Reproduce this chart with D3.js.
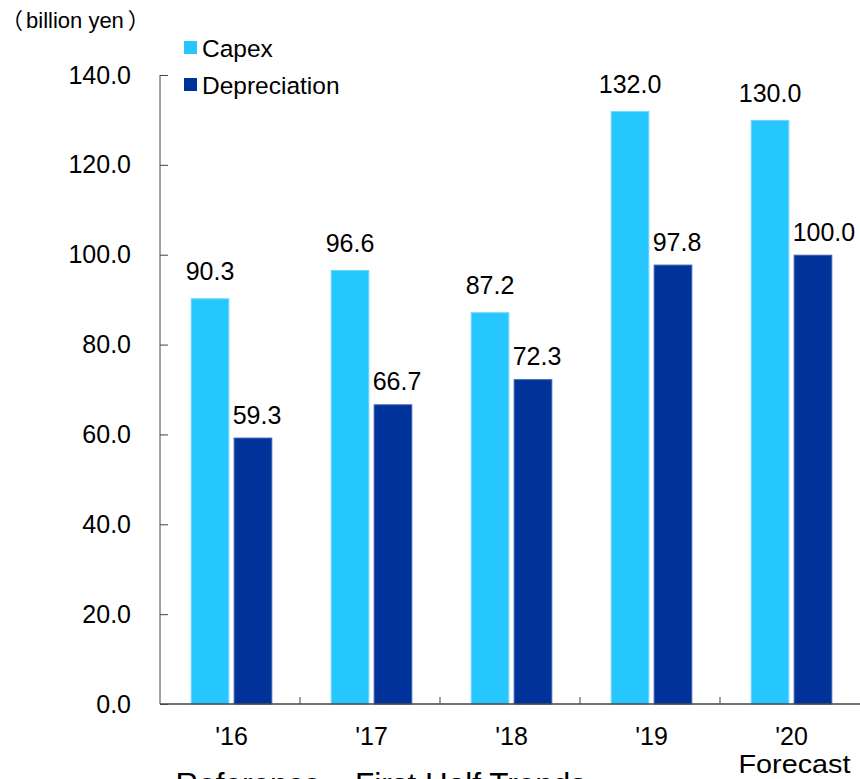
<!DOCTYPE html>
<html>
<head>
<meta charset="utf-8">
<script src="https://cdn.jsdelivr.net/npm/d3@7"></script>
<style>
  html, body { margin: 0; padding: 0; background: #fff; }
  svg { display: block; }
  text { font-family: "Liberation Sans", Arial, "Noto Sans CJK JP", sans-serif; fill: #000; }
</style>
</head>
<body>
<script>
// Capital expenditure vs. depreciation, first-half figures (billion yen)
const categories = ["'16", "'17", "'18", "'19", "'20"];
const categoryNotes = ["", "", "", "", "Forecast"];
const capex = [90.3, 96.6, 87.2, 132.0, 130.0];
const depreciation = [59.3, 66.7, 72.3, 97.8, 100.0];
const seriesNames = ["Capex", "Depreciation"];
const yTickValues = [0, 20, 40, 60, 80, 100, 120, 140];

const W = 860, H = 779;
const colors = { Capex: "#26C6FF", Depreciation: "#003399" };
const strokes = { Capex: "#6fd8ff", Depreciation: "#3a5fb0" };

const svg = d3.select("body").append("svg")
  .attr("width", W).attr("height", H);

const plot = { left: 160, right: 860, top: 75, bottom: 704 };

const y = d3.scaleLinear().domain([0, 140]).range([plot.bottom, plot.top]);
const x0 = d3.scaleBand().domain(categories).range([plot.left, plot.right]).padding(0);
const x1 = d3.scaleBand().domain(seriesNames).range([30.7, 112.3]).paddingInner(0.1);

const rows = categories.map((c, i) => ({
  cat: c, note: categoryNotes[i],
  values: [
    { key: "Capex", value: capex[i] },
    { key: "Depreciation", value: depreciation[i] }
  ]
}));

// Bars
const groups = svg.append("g").selectAll("g").data(rows).join("g")
  .attr("transform", d => `translate(${x0(d.cat)},0)`);

groups.selectAll("rect").data(d => d.values).join("rect")
  .attr("x", d => x1(d.key) + 0.5)
  .attr("y", d => y(d.value) + 0.5)
  .attr("width", x1.bandwidth() - 1)
  .attr("height", d => y(0) - y(d.value) - 0.5)
  .attr("fill", d => colors[d.key])
  .attr("stroke", d => strokes[d.key])
  .attr("stroke-width", 1);

// Value labels: capex centred over its bar, depreciation aligned to the bar's left edge
groups.selectAll("text.val").data(d => d.values).join("text")
  .attr("class", "val")
  .attr("x", d => d.key === "Capex" ? x1(d.key) + x1.bandwidth() / 2 : x1(d.key) - 1)
  .attr("y", d => y(d.value) - (d.key === "Capex" ? 18 : 14))
  .attr("text-anchor", d => d.key === "Capex" ? "middle" : "start")
  .attr("font-size", 25)
  .text(d => d.value.toFixed(1));

// Y axis
const yAxis = d3.axisLeft(y).tickValues(yTickValues).tickSize(-8).tickPadding(29)
  .tickFormat(d => d.toFixed(1));
const gy = svg.append("g").attr("transform", `translate(${plot.left},0)`).call(yAxis);
gy.selectAll(".tick line").attr("stroke", "#444");
gy.selectAll(".tick text").attr("font-size", 25)
  .attr("font-family", "'Liberation Sans', Arial, sans-serif").attr("fill", "#000");
gy.select(".domain").attr("stroke", "#444").attr("d", `M0,${plot.top}V${plot.bottom}`);

// X axis line with inward separators between categories
const gx = svg.append("g");
gx.append("line")
  .attr("x1", plot.left).attr("x2", plot.right)
  .attr("y1", plot.bottom).attr("y2", plot.bottom)
  .attr("stroke", "#444").attr("stroke-width", 1.5);
gx.selectAll("line.sep").data(categories.slice(1)).join("line")
  .attr("class", "sep")
  .attr("x1", d => x0(d)).attr("x2", d => x0(d))
  .attr("y1", plot.bottom).attr("y2", plot.bottom - 7)
  .attr("stroke", "#444");

// Category labels
const groupCenter = (x1.range()[0] + x1.range()[1]) / 2;
gx.selectAll("text.cat").data(rows).join("text")
  .attr("class", "cat")
  .attr("x", d => x0(d.cat) + groupCenter)
  .attr("y", 745)
  .attr("text-anchor", "middle")
  .attr("font-size", 25)
  .text(d => d.cat);
gx.selectAll("text.note").data(rows.filter(d => d.note)).join("text")
  .attr("class", "note")
  .attr("x", d => x0(d.cat) + groupCenter + 3)
  .attr("y", 773)
  .attr("text-anchor", "middle")
  .attr("font-size", 25)
  .attr("textLength", 112)
  .attr("lengthAdjust", "spacingAndGlyphs")
  .text(d => d.note);

// Unit label
const unit = svg.append("text").attr("x", 1).attr("y", 28).attr("font-size", 22);
unit.append("tspan").text("（");
unit.append("tspan").attr("dx", 3).text("billion yen");
unit.append("tspan").attr("dx", 4).text("）");

// Legend
const legend = svg.append("g").selectAll("g").data(seriesNames).join("g")
  .attr("transform", (d, i) => `translate(184,${41 + i * 37})`);
legend.append("rect")
  .attr("width", 13).attr("height", 13)
  .attr("fill", d => colors[d]);
legend.append("text")
  .attr("x", 18).attr("y", 15.5)
  .attr("font-size", 24.5)
  .text(d => d);

// Caption below the chart
const caption = svg.append("text").attr("y", 795).attr("font-size", 31.5);
caption.append("tspan").attr("x", 165).text("‹Reference›");
caption.append("tspan").attr("x", 355).text("First Half Trends");
</script>
</body>
</html>
